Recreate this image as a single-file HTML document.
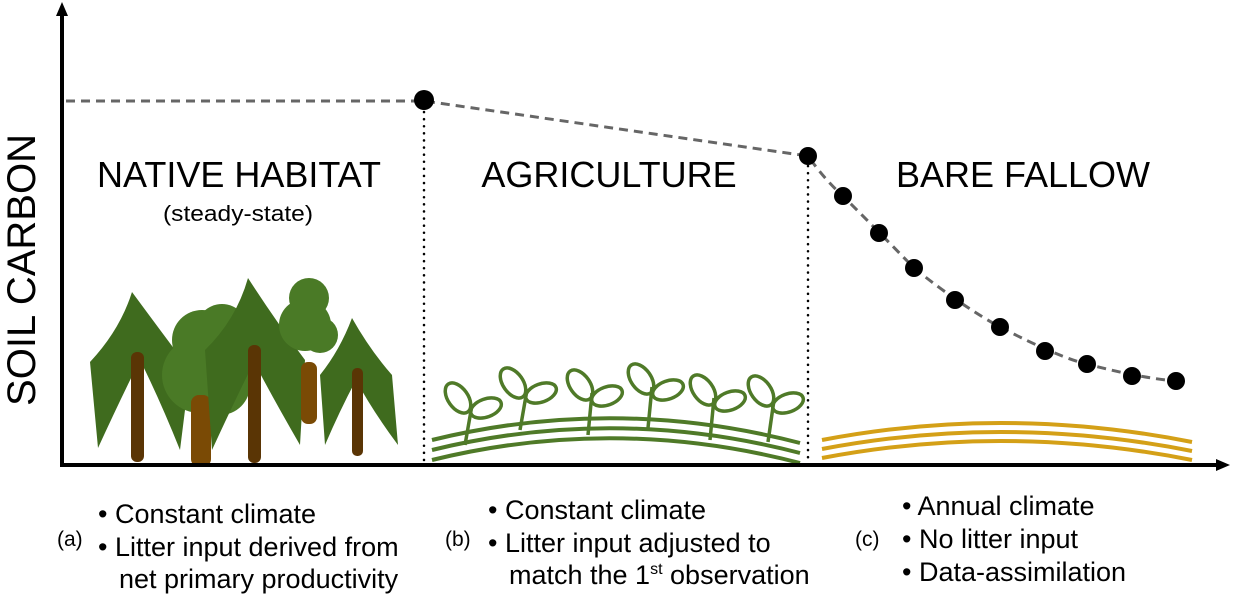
<!DOCTYPE html>
<html><head><style>body{margin:0;background:#fff}svg{display:block}</style></head><body>
<svg width="1241" height="596" viewBox="0 0 1241 596" xmlns="http://www.w3.org/2000/svg" font-family="Liberation Sans, sans-serif">
<!-- trees -->
<g>
 <path d="M132 292 Q120 330 90 362 L98 448 Q120 400 140 360 Q160 400 180 450 L190 370 Q160 330 132 292Z" fill="#3f6b1e"/>
 <rect x="131" y="352" width="13" height="110" rx="6" fill="#5a3505"/>
 <circle cx="202" cy="340" r="30" fill="#4a7a26"/><circle cx="200" cy="375" r="38" fill="#4a7a26"/><circle cx="222" cy="330" r="26" fill="#4a7a26"/><circle cx="220" cy="385" r="30" fill="#4a7a26"/>
 <rect x="191" y="395" width="20" height="72" rx="8" fill="#7a4a05"/>
 <path d="M248 278 Q236 320 205 350 L212 450 Q235 400 254 362 Q274 400 300 445 L305 360 Q275 320 248 278Z" fill="#3f6b1e"/>
 <rect x="248" y="345" width="13" height="118" rx="6" fill="#5a3505"/>
 <circle cx="309" cy="298" r="20" fill="#4a7a26"/><circle cx="305" cy="325" r="26" fill="#4a7a26"/><circle cx="320" cy="335" r="18" fill="#4a7a26"/>
 <rect x="301" y="362" width="16" height="62" rx="7" fill="#7a4a05"/>
 <path d="M352 318 Q340 350 320 375 L325 445 Q340 410 356 380 Q372 410 398 445 L392 375 Q370 350 352 318Z" fill="#3f6b1e"/>
 <rect x="352" y="368" width="11" height="88" rx="5" fill="#5a3505"/>
</g>
<!-- agriculture -->
<g fill="none" stroke="#4f7a28" stroke-width="4">
 <path d="M432 440 Q615 395 800 443"/><path d="M432 450 Q615 405 800 453"/><path d="M432 460 Q615 415 800 463"/>
 <g stroke-width="3.5">
 <path d="M465 445 L472 405"/><ellipse cx="458" cy="398" rx="10" ry="17" transform="rotate(-35 458 398)"/><ellipse cx="486" cy="408" rx="16" ry="9" transform="rotate(-20 486 408)"/>
 <path d="M520 430 L527 390"/><ellipse cx="513" cy="383" rx="10" ry="17" transform="rotate(-35 513 383)"/><ellipse cx="541" cy="393" rx="16" ry="9" transform="rotate(-20 541 393)"/>
 <path d="M588 435 L592 393"/><ellipse cx="580" cy="385" rx="10" ry="17" transform="rotate(-35 580 385)"/><ellipse cx="607" cy="396" rx="16" ry="9" transform="rotate(-20 607 396)"/>
 <path d="M648 428 L652 387"/><ellipse cx="641" cy="379" rx="10" ry="17" transform="rotate(-35 641 379)"/><ellipse cx="668" cy="390" rx="16" ry="9" transform="rotate(-20 668 390)"/>
 <path d="M710 440 L714 398"/><ellipse cx="703" cy="390" rx="10" ry="17" transform="rotate(-35 703 390)"/><ellipse cx="730" cy="401" rx="16" ry="9" transform="rotate(-20 730 401)"/>
 <path d="M768 442 L774 400"/><ellipse cx="761" cy="391" rx="10" ry="17" transform="rotate(-35 761 391)"/><ellipse cx="788" cy="403" rx="16" ry="9" transform="rotate(-20 788 403)"/>
 </g>
</g>
<!-- fallow -->
<g fill="none" stroke="#d4a017" stroke-width="4">
 <path d="M822 440 Q1005 405 1192 442"/><path d="M822 449 Q1005 414 1192 451"/><path d="M822 458 Q1005 423 1192 460"/>
</g>
<!-- axes -->
<g stroke="#000" stroke-width="4"><line x1="62" y1="8" x2="62" y2="466"/><line x1="60" y1="465" x2="1222" y2="465"/></g>
<path d="M62 2 L56 16 L68 16Z M1230 465 L1216 459 L1216 471Z"/>
<!-- dotted verticals -->
<g stroke="#000" stroke-width="2.5" stroke-dasharray="0.1 7" stroke-linecap="round"><line x1="424" y1="112" x2="424" y2="463"/><line x1="808" y1="166" x2="808" y2="463"/></g>
<!-- dashed curve -->
<path d="M66 101 L424 101 L808 156 Q825 180 843 196 Q880 233 914 268 Q960 305 1000 327 Q1060 358 1087 364 Q1140 378 1176 381" fill="none" stroke="#666" stroke-width="3" stroke-dasharray="9 6"/>
<g fill="#000"><circle cx="424" cy="100" r="10"/><circle cx="808" cy="156" r="9"/><circle cx="843" cy="196" r="9"/><circle cx="879" cy="233" r="9"/><circle cx="914" cy="268" r="9"/><circle cx="955" cy="300" r="9"/><circle cx="1000" cy="327" r="9"/><circle cx="1045" cy="351" r="9"/><circle cx="1087" cy="364" r="9"/><circle cx="1132" cy="376" r="9"/><circle cx="1176" cy="381" r="9"/></g>
<!-- labels -->
<text x="22" y="270" font-size="40" text-anchor="middle" transform="rotate(-90 22 270)" dominant-baseline="central">SOIL CARBON</text>
<g font-size="36" text-anchor="middle"><text x="239" y="187">NATIVE HABITAT</text><text x="609" y="187">AGRICULTURE</text><text x="1023" y="187">BARE FALLOW</text></g>
<text x="238" y="221" font-size="22" text-anchor="middle" textLength="150" lengthAdjust="spacingAndGlyphs">(steady-state)</text>
<g font-size="27">
<text x="98" y="523">• Constant climate</text><text x="98" y="556">• Litter input derived from</text><text x="119" y="588">net primary productivity</text>
<text x="57" y="546" font-size="21">(a)</text>
<text x="488" y="519">• Constant climate</text><text x="488" y="552">• Litter input adjusted to</text><text x="509" y="584">match the 1<tspan font-size="16" dy="-10">st</tspan><tspan dy="10"> observation</tspan></text>
<text x="445" y="546" font-size="21">(b)</text>
<text x="902" y="515">• Annual climate</text><text x="902" y="548">• No litter input</text><text x="902" y="581">• Data-assimilation</text>
<text x="855" y="546" font-size="21">(c)</text>
</g>
</svg>
</body></html>
